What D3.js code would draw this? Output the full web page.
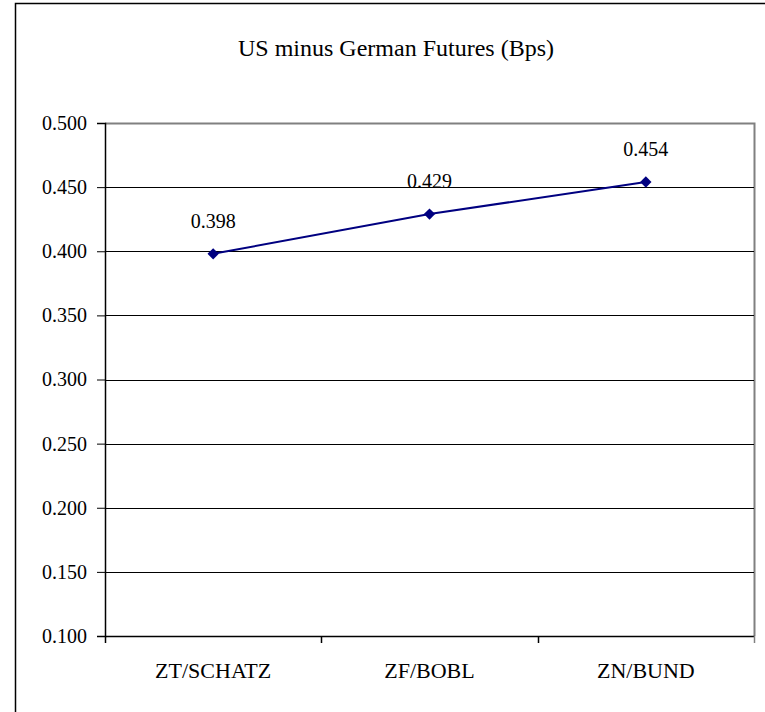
<!DOCTYPE html>
<html>
<head>
<meta charset="utf-8">
<script src="https://cdn.jsdelivr.net/npm/d3@7"></script>
<style>
  body { margin: 0; background: #fff; }
  text { font-family: "Liberation Serif", "DejaVu Serif", serif; fill: #000; }
</style>
</head>
<body>
<svg id="chart" width="765" height="712"></svg>
<script>
const categories = ['ZT/SCHATZ', 'ZF/BOBL', 'ZN/BUND'];
const values = [0.398, 0.429, 0.454];
const yTicks = [0.1, 0.15, 0.2, 0.25, 0.3, 0.35, 0.4, 0.45, 0.5];
const title = 'US minus German Futures (Bps)';

const svg = d3.select('#chart');
const serif = '"Liberation Serif", "DejaVu Serif", serif';

const plot = { left: 105, right: 754, top: 123, bottom: 636 };

// outer chart frame, runs off the right and bottom edges
svg.append('rect')
  .attr('x', 15.5)
  .attr('y', 3.5)
  .attr('width', 800)
  .attr('height', 800)
  .attr('fill', '#fff')
  .attr('stroke', '#000')
  .attr('stroke-width', 1.5);

svg.append('text')
  .attr('x', 396)
  .attr('y', 56)
  .attr('text-anchor', 'middle')
  .style('font-size', '24px')
  .text(title);

const x = d3.scaleBand()
  .domain(categories)
  .range([plot.left, plot.right])
  .paddingInner(0)
  .paddingOuter(0);

const y = d3.scaleLinear()
  .domain([0.1, 0.5])
  .range([plot.bottom, plot.top]);

// plot area frame (grey top and right)
svg.append('path')
  .attr('d', `M${plot.left},${plot.top + 0.5}H${plot.right + 0.5}V${plot.bottom}`)
  .attr('fill', 'none')
  .attr('stroke', '#808080')
  .attr('stroke-width', 2);

// gridlines
svg.append('g')
  .selectAll('line')
  .data(yTicks.filter(d => d > 0.1 && d < 0.5))
  .join('line')
  .attr('x1', plot.left)
  .attr('x2', plot.right)
  .attr('y1', d => Math.round(y(d)) + 0.5)
  .attr('y2', d => Math.round(y(d)) + 0.5)
  .attr('stroke', '#000')
  .attr('stroke-width', 1);

// y axis
const yAxis = svg.append('g')
  .attr('transform', `translate(${plot.left},0)`)
  .call(d3.axisLeft(y).tickValues(yTicks).tickFormat(d3.format('.3f')).tickSize(8).tickPadding(10));
yAxis.select('.domain').attr('stroke', '#000').attr('stroke-width', 1.5);
yAxis.selectAll('.tick line').attr('stroke', '#000');
yAxis.selectAll('.tick text')
  .style('font-size', '20px')
  .style('font-family', serif)
  .attr('fill', '#000');

// x axis
const xAxis = svg.append('g')
  .attr('transform', `translate(0,${plot.bottom})`)
  .call(d3.axisBottom(x).tickSize(0).tickPadding(26));
xAxis.select('.domain').attr('stroke', '#000').attr('stroke-width', 1.5);
xAxis.selectAll('.tick text')
  .style('font-size', '22px')
  .style('font-family', serif)
  .attr('fill', '#000');

// category separators below axis
const bounds = categories.map(c => x(c)).concat([x(categories[categories.length - 1]) + x.bandwidth()]);
svg.append('g')
  .selectAll('line')
  .data(bounds)
  .join('line')
  .attr('x1', d => Math.round(d) + 0.5)
  .attr('x2', d => Math.round(d) + 0.5)
  .attr('y1', plot.bottom)
  .attr('y2', plot.bottom + 7)
  .attr('stroke', d => d === bounds[bounds.length - 1] ? '#808080' : '#000')
  .attr('stroke-width', 1.5);

const pts = categories.map((c, i) => ({ cat: c, value: values[i] }));
const cx = d => x(d.cat) + x.bandwidth() / 2;

svg.append('path')
  .datum(pts)
  .attr('fill', 'none')
  .attr('stroke', '#000080')
  .attr('stroke-width', 2)
  .attr('d', d3.line().x(cx).y(d => y(d.value)));

svg.append('g')
  .selectAll('path')
  .data(pts)
  .join('path')
  .attr('transform', d => `translate(${cx(d)},${y(d.value)}) rotate(45)`)
  .attr('d', 'M-4,-4H4V4H-4Z')
  .attr('fill', '#000080');

svg.append('g')
  .selectAll('text')
  .data(pts)
  .join('text')
  .attr('x', cx)
  .attr('y', d => y(d.value) - 26)
  .attr('text-anchor', 'middle')
  .style('font-size', '20px')
  .text(d => d3.format('.3f')(d.value));
</script>
</body>
</html>
